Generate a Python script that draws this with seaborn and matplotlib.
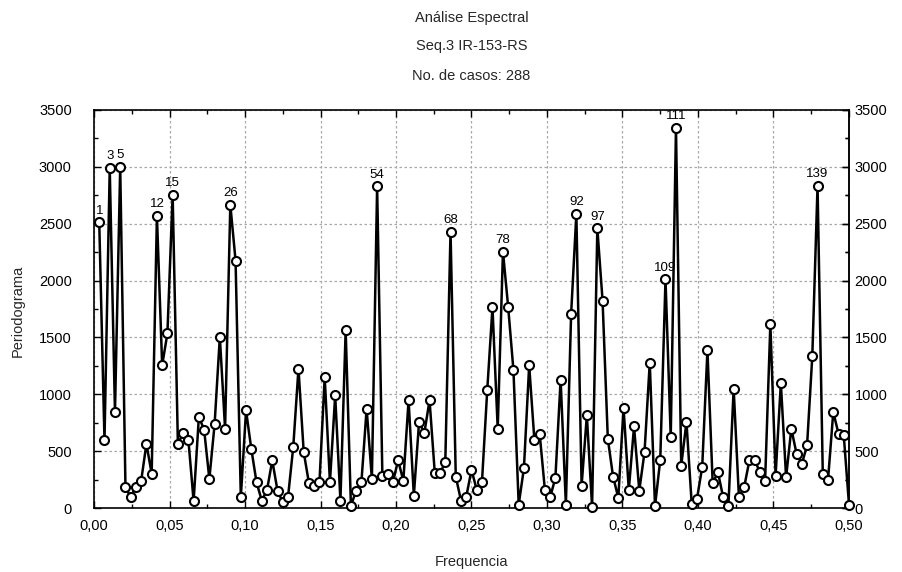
import numpy as np
import pandas as pd
import matplotlib
matplotlib.use("Agg")
import matplotlib.pyplot as plt
import seaborn as sns
from matplotlib.ticker import FuncFormatter, MultipleLocator

# ---- data ----
n_cases = 288
periodogram = [
    2511, 594, 2990, 844, 3000, 188, 94, 188, 241, 564,
    300, 2570, 1255, 1535, 2755, 564, 659, 600, 60, 800,
    690, 256, 735, 1505, 697, 2667, 2176, 94, 858, 520,
    226, 65, 159, 418, 153, 50, 94, 535, 1226, 491,
    218, 197, 226, 1152, 226, 990, 65, 1564, 20, 153,
    226, 873, 256, 2828, 285, 300, 226, 418, 241, 947,
    109, 756, 659, 947, 306, 306, 403, 2431, 276, 65,
    100, 335, 160, 232, 1035, 1764, 697, 2255, 1764, 1211,
    30, 350, 1255, 594, 653, 159, 94, 265, 1129, 30,
    1705, 2587, 197, 814, 10, 2460, 1823, 609, 276, 90,
    882, 159, 717, 153, 491, 1279, 15, 423, 2011, 623,
    3343, 373, 756, 35, 79, 359, 1388, 218, 315, 94,
    20, 1050, 100, 182, 418, 423, 315, 241, 1617, 285,
    1100, 270, 697, 476, 388, 550, 1335, 2834, 300, 247,
    844, 653, 638, 30,
]
label_idx = [1, 3, 5, 12, 15, 26, 54, 68, 78, 92, 96, 109, 111, 138]
label_text = ["1", "3", "5", "12", "15", "26", "54", "68", "78", "92", "97", "109", "111", "139"]
x_ticks = [0.00, 0.05, 0.10, 0.15, 0.20, 0.25, 0.30, 0.35, 0.40, 0.45, 0.50]
y_ticks = [0, 500, 1000, 1500, 2000, 2500, 3000, 3500]
title_lines = ["Análise Espectral", "Seq.3 IR-153-RS", "No. de casos: 288"]

freq = np.arange(1, len(periodogram) + 1) / n_cases
df = pd.DataFrame({"Frequencia": freq, "Periodograma": periodogram})

sns.set_style("white")
plt.rcParams["font.family"] = ["Liberation Sans", "DejaVu Sans"]

W, H = 903, 572
fig = plt.figure(figsize=(W / 100, H / 100), dpi=100)
fig.patch.set_facecolor("white")
L, R, T, B = 94, 849, 110, 508
ax = fig.add_axes([L / W, 1 - B / H, (R - L) / W, (B - T) / H])

sns.lineplot(data=df, x="Frequencia", y="Periodograma", ax=ax, color="black",
             linewidth=1.8, marker="o", markersize=6.5, markerfacecolor="white",
             markeredgecolor="black", markeredgewidth=1.5, clip_on=False, zorder=3)

yfmt = FuncFormatter(lambda v, p: f"{int(round(v))}")
ax.set_xlim(0, 0.5)
ax.set_ylim(0, 3500)
ax.set_xticks(x_ticks)
ax.set_yticks(y_ticks)
ax.xaxis.set_minor_locator(MultipleLocator(0.025))
ax.yaxis.set_minor_locator(MultipleLocator(250))
ax.xaxis.set_major_formatter(FuncFormatter(lambda v, p: f"{v:.2f}".replace(".", ",")))
ax.yaxis.set_major_formatter(yfmt)
ax.grid(True, which="major", linestyle=(0, (2, 2)), color="#a8a8a8", linewidth=0.9)
ax.set_axisbelow(True)
for s in ax.spines.values():
    s.set_color("black")
    s.set_linewidth(1.2)
ax.tick_params(axis="both", which="both", direction="in", colors="black",
               left=True, right=True, top=True, bottom=True, width=1)
ax.tick_params(axis="both", which="major", length=5, labelsize=10.5)
ax.tick_params(axis="both", which="minor", length=3)
ax.tick_params(axis="x", which="major", pad=8)
ax.tick_params(axis="y", which="major", pad=16, labelright=False)
ax.set_xlabel("")
ax.set_ylabel("")

# right-hand value labels, close to the axis
sec = ax.secondary_yaxis("right")
sec.set_yticks(y_ticks)
sec.yaxis.set_major_formatter(yfmt)
sec.yaxis.set_minor_locator(MultipleLocator(250))
sec.tick_params(axis="y", which="both", direction="in", colors="black", width=1)
sec.tick_params(axis="y", which="major", length=5, labelsize=10.5, pad=4)
sec.tick_params(axis="y", which="minor", length=3)
sec.spines["right"].set_linewidth(1.2)

for i, t in zip(label_idx, label_text):
    ax.annotate(t, (freq[i - 1], periodogram[i - 1]), xytext=(0, 4),
                textcoords="offset points", ha="center", va="bottom",
                fontsize=9.5, color="black", zorder=4)

cx = (L + R) / 2 / W
for txt, yp in zip(title_lines, [18, 46, 76]):
    fig.text(cx, 1 - yp / H, txt, ha="center", va="center", fontsize=10.5)

fig.text(cx, 1 - 562 / H, "Frequencia", ha="center", va="center", fontsize=10.5)
fig.text(18 / W, 1 - 311 / H, "Periodograma", ha="center", va="center",
         rotation=90, fontsize=10.5)

fig.savefig("out.png", dpi=100)
